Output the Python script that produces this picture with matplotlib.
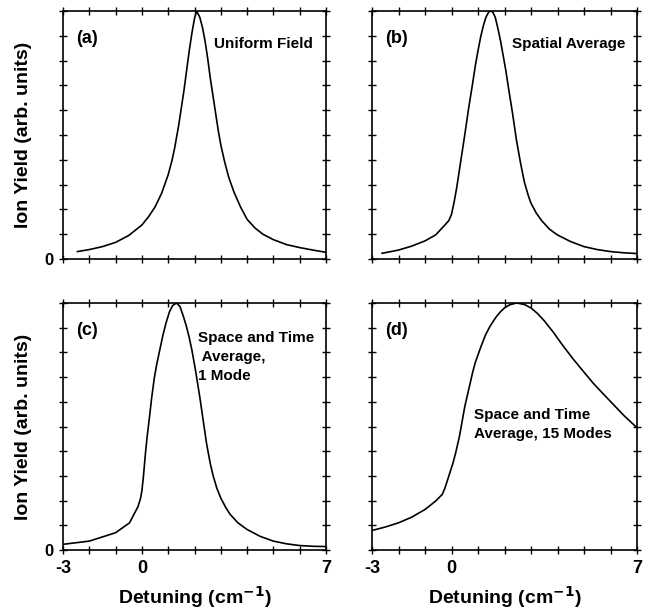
import matplotlib
matplotlib.use("Agg")
import matplotlib.pyplot as plt

plt.rcParams['font.family'] = ['Liberation Sans', 'DejaVu Sans']
plt.rcParams['font.weight'] = 'bold'

# --- DATA ---
x_a = [-2.45, -2.0, -1.5, -1.0, -0.5, 0.0, 0.25, 0.5, 0.75, 1.0, 1.15, 1.25, 1.4, 1.5, 1.6,
       1.7, 1.8, 1.9, 2.0, 2.08, 2.2, 2.3, 2.4, 2.5, 2.6, 2.7, 2.8, 2.9, 3.0, 3.15, 3.3,
       3.5, 3.75, 4.0, 4.3, 4.6, 5.0, 5.5, 6.0, 6.5, 7.0]
y_a = [0.03, 0.038, 0.05, 0.067, 0.095, 0.137, 0.17, 0.21, 0.265, 0.34, 0.40, 0.45, 0.54, 0.61, 0.68,
       0.76, 0.84, 0.91, 0.97, 1.0, 0.975, 0.935, 0.88, 0.81, 0.73, 0.66, 0.59, 0.52, 0.46, 0.39, 0.33,
       0.27, 0.21, 0.16, 0.125, 0.10, 0.078, 0.058, 0.046, 0.036, 0.027]

x_b = [-2.62, -2.0, -1.5, -1.0, -0.6, -0.25, -0.1, 0.0, 0.1, 0.2, 0.3, 0.4, 0.5, 0.65, 0.8, 0.9,
       1.0, 1.1, 1.2, 1.3, 1.4, 1.48, 1.56, 1.65, 1.75, 1.85, 1.95, 2.05, 2.15, 2.3, 2.45,
       2.6, 2.75, 2.9, 3.0, 3.2, 3.4, 3.7, 4.0, 4.5, 5.0, 5.5, 6.0, 6.5, 7.0]
y_b = [0.023, 0.036, 0.052, 0.073, 0.097, 0.137, 0.155, 0.18, 0.23, 0.29, 0.36, 0.43, 0.50, 0.61, 0.71, 0.78,
       0.84, 0.895, 0.94, 0.975, 0.995, 1.0, 0.995, 0.975, 0.93, 0.88, 0.82, 0.76, 0.69, 0.59, 0.48,
       0.39, 0.31, 0.255, 0.225, 0.185, 0.155, 0.12, 0.097, 0.07, 0.05, 0.038, 0.03, 0.025, 0.022]

x_c = [-3.0, -2.0, -1.0, -0.47, -0.3, -0.15, -0.05, 0.0, 0.06, 0.13, 0.2, 0.28, 0.37, 0.47,
       0.56, 0.66, 0.8, 0.92, 1.05, 1.17, 1.32, 1.45, 1.58, 1.68, 1.8, 1.9, 2.05, 2.2, 2.33,
       2.46, 2.6, 2.71, 2.85, 3.0, 3.2, 3.35, 3.65, 4.0, 4.5, 5.0, 5.5, 6.0, 6.5, 7.0]
y_c = [0.023, 0.036, 0.07, 0.11, 0.145, 0.175, 0.21, 0.24, 0.30, 0.386, 0.46, 0.53, 0.615, 0.695,
       0.75, 0.80, 0.87, 0.92, 0.965, 0.99, 1.0, 0.985, 0.945, 0.91, 0.86, 0.81, 0.72, 0.62, 0.525,
       0.43, 0.35, 0.30, 0.25, 0.21, 0.17, 0.145, 0.11, 0.083, 0.055, 0.036, 0.025, 0.018, 0.015, 0.014]

x_d = [-3.0, -2.5, -2.0, -1.5, -1.0, -0.6, -0.35, -0.25, -0.1, 0.05, 0.15, 0.3, 0.4, 0.5,
       0.65, 0.8, 0.9, 1.1, 1.28, 1.45, 1.66, 1.85, 2.0, 2.2, 2.46, 2.75, 3.0, 3.25, 3.5,
       3.84, 4.2, 4.6, 5.0, 5.35, 5.7, 6.1, 6.5, 7.0]
y_d = [0.079, 0.093, 0.11, 0.133, 0.164, 0.198, 0.225, 0.25, 0.30, 0.35, 0.39, 0.46, 0.52, 0.58,
       0.65, 0.72, 0.76, 0.82, 0.87, 0.905, 0.94, 0.965, 0.98, 0.993, 1.0, 0.994, 0.98, 0.957, 0.928,
       0.882, 0.828, 0.772, 0.72, 0.675, 0.635, 0.59, 0.545, 0.495]

panel_tags = ['(a)', '(b)', '(c)', '(d)']
notes = ['Uniform Field', 'Spatial Average', 'Space and Time\n Average,\n1 Mode',
         'Space and Time\nAverage, 15 Modes']
xtick_vals = list(range(-3, 8))
xtick_shown = {-3: '-3', 0: '0', 7: '7'}
ytick_vals = [i / 10 for i in range(11)]

fig = plt.figure(figsize=(6.45, 6.09), dpi=100)

boxes = [
    [63 / 645, 1 - 259 / 609, 263 / 645, 248 / 609],
    [372 / 645, 1 - 259 / 609, 265 / 645, 248 / 609],
    [63 / 645, 1 - 550 / 609, 263 / 645, 247 / 609],
    [372 / 645, 1 - 550 / 609, 265 / 645, 247 / 609],
]
series = [(x_a, y_a), (x_b, y_b), (x_c, y_c), (x_d, y_d)]
# note positions in axes fraction (x, y, ha, va)
note_pos = [(0.95, 0.865, 'right', 'center'), (0.955, 0.865, 'right', 'center'),
            (0.515, 0.885, 'left', 'top'), (0.385, 0.575, 'left', 'top')]

for i, (box, (xs, ys)) in enumerate(zip(boxes, series)):
    ax = fig.add_axes(box)
    ax.plot(xs, ys, color='black', lw=1.2)
    ax.set_xlim(-3, 7)
    ax.set_ylim(0, 1)
    ax.set_xticks(xtick_vals)
    ax.set_yticks(ytick_vals)
    if i >= 2:
        ax.set_xticklabels([xtick_shown.get(v, '') for v in xtick_vals], fontsize=13, fontweight='bold')
        ax.set_xlabel('Detuning (cm$^{\\mathbf{-1}}$)', fontsize=14, fontweight='bold', labelpad=5)
    else:
        ax.set_xticklabels([])
    if i % 2 == 0:
        ax.set_yticklabels(['0'] + [''] * 10, fontsize=12, fontweight='bold')
        ax.set_ylabel('Ion Yield (arb. units)', fontsize=14, fontweight='bold', labelpad=9)
    else:
        ax.set_yticklabels([])
    ax.tick_params(direction='inout', length=6, width=1, top=True, right=True, pad=4)
    for s in ax.spines.values():
        s.set_linewidth(1.2)
    ax.text(0.05, 0.89, panel_tags[i], transform=ax.transAxes, fontsize=13, fontweight='bold',
            ha='left', va='center')
    nx, ny, nha, nva = note_pos[i]
    ax.text(nx, ny, notes[i], transform=ax.transAxes, fontsize=11, fontweight='bold',
            ha=nha, va=nva, linespacing=1.45)

fig.savefig('out.png', dpi=100)
